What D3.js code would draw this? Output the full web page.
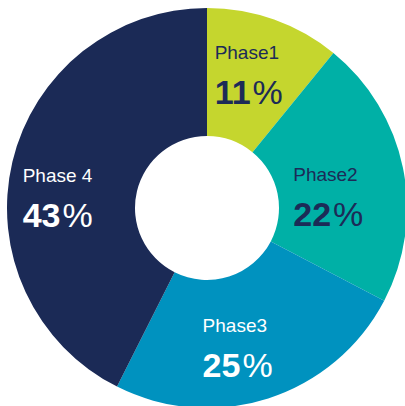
<!DOCTYPE html>
<html>
<head>
<meta charset="utf-8">
<script src="https://cdn.jsdelivr.net/npm/d3@7"></script>
<style>
  html, body { margin: 0; padding: 0; background: #fff; }
  svg { display: block; font-family: "Liberation Sans", Arial, sans-serif; }
</style>
</head>
<body>
<div id="chart"></div>
<script>
// data
var phases = ["Phase1", "Phase2", "Phase3", "Phase 4"];
var shares = [11, 22, 25, 43];

// look
var sliceColors = ["#c5d62e", "#00b0a6", "#0092bf", "#1b2a56"];
var textColors = ["#1c2b57", "#1c2b57", "#ffffff", "#ffffff"];
// label nudges from slice centroid (left edge, name baseline)
var labelNudge = [[-38, -21], [-47, 0], [-46, -5], [-52, 5]];

var svgWidth = 405;
var svgHeight = 406;
var cx = 207, cy = 208;
var outerR = 200, innerR = 72;

var svg = d3.select("#chart")
  .append("svg")
  .attr("width", svgWidth)
  .attr("height", svgHeight);

var g = svg.append("g")
  .attr("transform", `translate(${cx}, ${cy})`);

var pie = d3.pie().sort(null).value(function(d) { return d; });
var arc = d3.arc().innerRadius(innerR).outerRadius(outerR);

var arcs = pie(shares);

g.selectAll("path")
  .data(arcs)
  .enter()
  .append("path")
  .attr("d", arc)
  .attr("fill", function(d, i) { return sliceColors[i]; });

var labels = g.selectAll("g.label")
  .data(arcs)
  .enter()
  .append("g")
  .attr("class", "label")
  .attr("transform", function(d, i) {
    var c = arc.centroid(d);
    return `translate(${c[0] + labelNudge[i][0]}, ${c[1] + labelNudge[i][1]})`;
  });

labels.append("text")
  .attr("x", 0)
  .attr("y", 0)
  .style("font-size", "19px")
  .attr("fill", function(d, i) { return textColors[i]; })
  .text(function(d, i) { return phases[i]; });

var val = labels.append("text")
  .attr("x", 0)
  .attr("y", 45)
  .style("font-size", "34px")
  .attr("fill", function(d, i) { return textColors[i]; });

val.append("tspan")
  .style("font-weight", "bold")
  .text(function(d) { return d.data; });

val.append("tspan")
  .attr("dx", 2)
  .style("font-weight", "normal")
  .text("%");
</script>
</body>
</html>
